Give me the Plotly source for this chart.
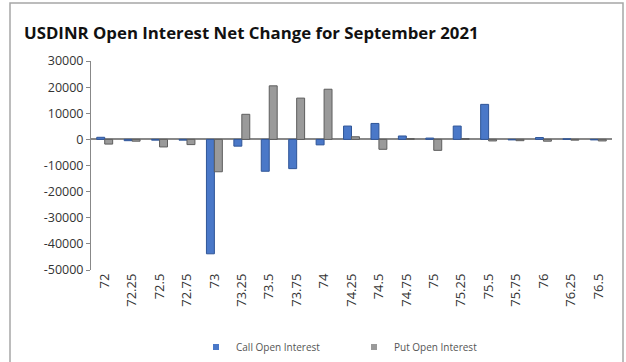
import plotly.graph_objects as go

strikes = ["72", "72.25", "72.5", "72.75", "73", "73.25", "73.5", "73.75", "74", "74.25",
           "74.5", "74.75", "75", "75.25", "75.5", "75.75", "76", "76.25", "76.5"]
call_oi = [800, -500, -300, -300, -43800, -2600, -12200, -11200, -2100, 5100,
           6100, 1300, 500, 5100, 13400, -200, 700, 200, -200]
put_oi = [-1800, -700, -2900, -2000, -12400, 9600, 20500, 15800, 19200, 1000,
          -3800, 300, -4200, 300, -600, -500, -700, -300, -600]
y_ticks = [30000, 20000, 10000, 0, -10000, -20000, -30000, -40000, -50000]
y_tick_text = ["30000", "20000", "10000", "0", "-10000", "-20000", "-30000", "-40000", "-50000"]

font_family = "Open Sans, Liberation Sans, sans-serif"
call_color = "#4A78C8"
put_color = "#9A9A9A"

fig = go.Figure()
fig.add_trace(go.Bar(x=strikes, y=call_oi, name="Call Open Interest", showlegend=False,
                     marker=dict(color=call_color, line=dict(color="#2F5597", width=1))))
fig.add_trace(go.Bar(x=strikes, y=put_oi, name="Put Open Interest", showlegend=False,
                     marker=dict(color=put_color, line=dict(color="#5E5E5E", width=1))))
# legend entries with small square swatches
fig.add_trace(go.Scatter(x=[None], y=[None], mode="markers", name="Call Open Interest",
                         marker=dict(symbol="square", size=6, color=call_color)))
fig.add_trace(go.Scatter(x=[None], y=[None], mode="markers", name="Put Open Interest",
                         marker=dict(symbol="square", size=6, color=put_color)))

fig.update_layout(
    width=626, height=362,
    margin=dict(l=91, r=14, t=61, b=92),
    paper_bgcolor="white", plot_bgcolor="white",
    barmode="group", bargap=0.42, bargroupgap=0.0,
    title=dict(text="<b>USDINR Open Interest Net Change for September 2021</b>",
               x=24 / 626, xanchor="left", y=1 - 33 / 362, yanchor="middle",
               font=dict(family=font_family, size=16.8, color="#111111")),
    font=dict(family=font_family, color="#333333"),
    showlegend=True,
    legend=dict(orientation="h", x=196 / 626, xanchor="left", xref="container",
                y=15 / 362, yanchor="middle", yref="container",
                font=dict(size=10, color="#555555"), itemwidth=30,
                entrywidth=113, entrywidthmode="pixels", tracegroupgap=0,
                bgcolor="rgba(0,0,0,0)"),
    shapes=[dict(type="rect", xref="paper", yref="paper",
                 x0=(10 - 91) / 521, x1=(623 - 91) / 521,
                 y0=(270 - 370) / 209, y1=(270 - 3) / 209,
                 line=dict(color="#A6A6A6", width=1.5), fillcolor="rgba(0,0,0,0)",
                 layer="below")],
)
fig.update_yaxes(range=[-50000, 30000], tickvals=y_ticks, ticktext=y_tick_text,
                 ticks="outside", ticklen=4,
                 tickcolor="#888888", showline=True, linecolor="#888888", linewidth=1,
                 showgrid=False, zeroline=True, zerolinecolor="#888888", zerolinewidth=1.5,
                 tickfont=dict(size=12.5, color="#333333"))
fig.update_xaxes(tickangle=-90, showgrid=False, showline=False, ticks="",
                 tickfont=dict(size=13, color="#333333"))

fig.write_html("out.html")
